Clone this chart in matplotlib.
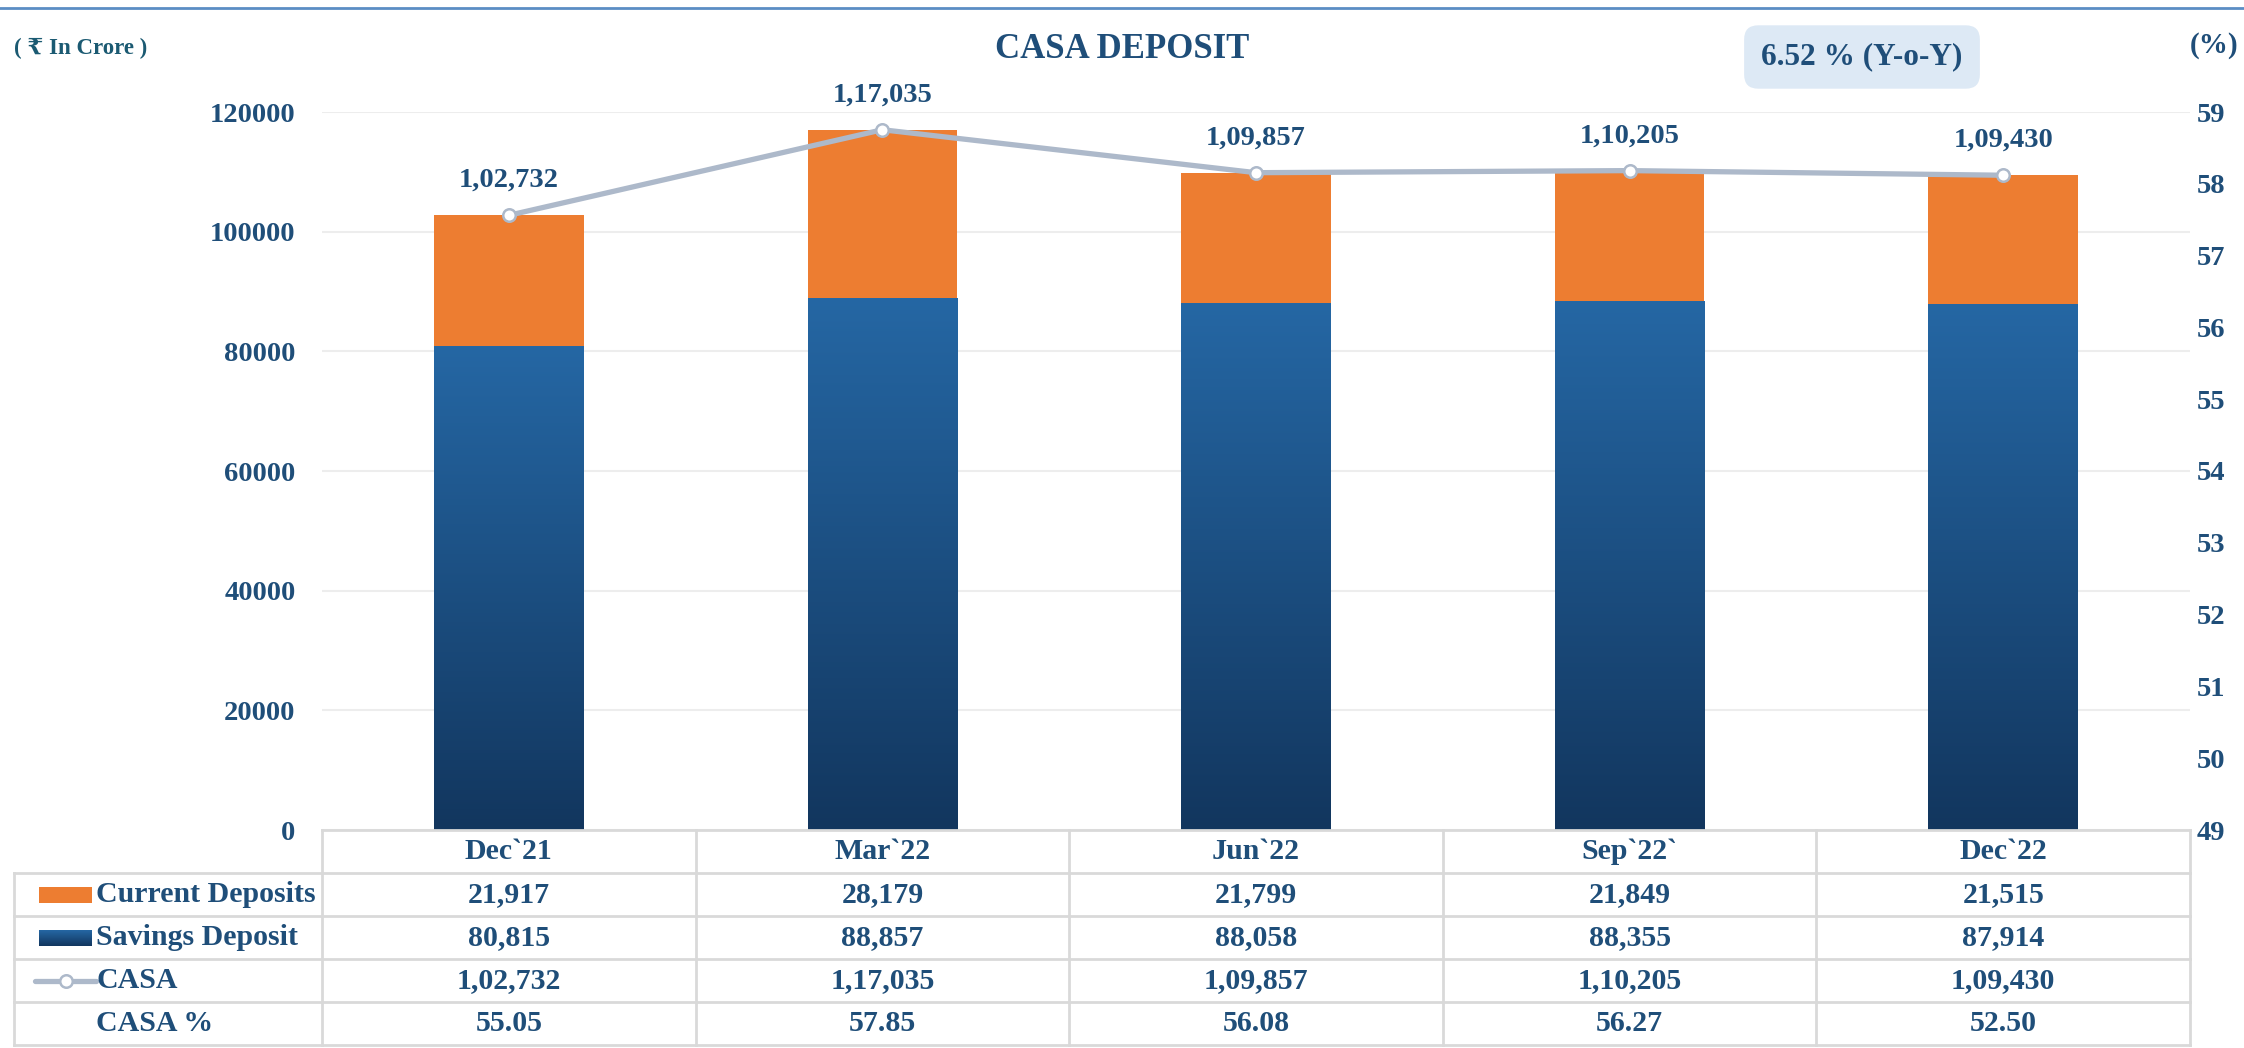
import numpy as np
import matplotlib
matplotlib.use("Agg")
import matplotlib.pyplot as plt
from matplotlib.colors import LinearSegmentedColormap
from matplotlib.patches import Rectangle
from matplotlib.lines import Line2D

plt.rcParams['font.family'] = ['Liberation Serif', 'DejaVu Serif', 'DejaVu Sans']
plt.rcParams['font.weight'] = 'bold'

# data (Rs crore)
periods = ["Dec`21", "Mar`22", "Jun`22", "Sep`22`", "Dec`22"]
current = [21917, 28179, 21799, 21849, 21515]
savings = [80815, 88857, 88058, 88355, 87914]
casa = [102732, 117035, 109857, 110205, 109430]
casa_pct = [55.05, 57.85, 56.08, 56.27, 52.50]
yoy_growth = 6.52

NAVY = '#1F4E79'
ORANGE = '#ED7D31'
LINE = '#ADB9CA'
GRID = '#EDEDED'
TBL = '#D9D9D9'
blue_grad = LinearSegmentedColormap.from_list('sb', ['#12365E', '#2567A4'])


def indian(n):
    s = str(int(n))
    if len(s) <= 3:
        return s
    head, tail = s[:-3], s[-3:]
    parts = []
    while len(head) > 2:
        parts.insert(0, head[-2:])
        head = head[:-2]
    if head:
        parts.insert(0, head)
    return ','.join(parts) + ',' + tail


W, H = 2244, 1048
fig = plt.figure(figsize=(W / 100, H / 100), dpi=100)

# pixel layout of the plot area
px_l, px_r, px_t, px_b = 322, 2190, 112, 830
ax = fig.add_axes([px_l / W, 1 - px_b / H, (px_r - px_l) / W, (px_b - px_t) / H])

x = np.arange(len(periods))
bw = 0.40
grad = np.linspace(1, 0, 256).reshape(-1, 1)

sav_bars = ax.bar(x, savings, bw, color='#1B4C80', zorder=2)
ax.bar(x, current, bw, bottom=savings, color=ORANGE, zorder=2)
for b in sav_bars:
    im = ax.imshow(grad, cmap=blue_grad, origin='upper', aspect='auto',
                   extent=(b.get_x(), b.get_x() + b.get_width(), 0, b.get_height()),
                   zorder=2.1)
    im.set_clip_path(b)

ax.plot(x, casa, color=LINE, lw=3.8, marker='o', ms=9, mfc='white',
        mec=LINE, mew=1.8, zorder=4)
for xi, v in zip(x, casa):
    ax.annotate(indian(v), (xi, v), xytext=(0, 25), textcoords='offset points',
                ha='center', va='center', color=NAVY, fontsize=20.5)

ax.set_xlim(-0.5, len(periods) - 0.5)
ax.set_ylim(0, 120000)
ax.set_yticks(np.arange(0, 120001, 20000))
ax.yaxis.grid(True, color=GRID, lw=1.5, zorder=0)
ax.set_axisbelow(True)
ax.set_xticks([])
ax.tick_params(axis='y', length=0, pad=19, labelsize=20.5, labelcolor=NAVY)
for s in ax.spines.values():
    s.set_visible(False)

ax2 = ax.twinx()
ax2.set_ylim(49, 59)
ax2.set_yticks(np.arange(49, 60, 1))
ax2.tick_params(axis='y', length=0, pad=5, labelsize=20.5, labelcolor=NAVY)
for s in ax2.spines.values():
    s.set_visible(False)

# data table under the chart
cat_px = (px_r - px_l) / len(periods)
tl = 14
x_left = -0.5 - (px_l - tl) / cat_px
tax = fig.add_axes([tl / W, 1 - 1045 / H, (px_r - tl) / W, (1045 - px_b) / H])
tax.set_xlim(x_left, len(periods) - 0.5)
tax.set_ylim(5, 0)
tax.axis('off')

tax.plot([-0.5, len(periods) - 0.5], [0, 0], color=TBL, lw=2, clip_on=False)
for r in range(1, 6):
    tax.plot([x_left, len(periods) - 0.5], [r, r], color=TBL, lw=2, clip_on=False)
tax.plot([x_left, x_left], [1, 5], color=TBL, lw=2, clip_on=False)
for c in np.arange(-0.5, len(periods), 1.0):
    tax.plot([c, c], [0, 5], color=TBL, lw=2, clip_on=False)

rows = [current, savings, casa]
for i, p in enumerate(periods):
    tax.text(i, 0.5, p, ha='center', va='center', color=NAVY, fontsize=21.5)
    for r, vals in enumerate(rows):
        tax.text(i, r + 1.5, indian(vals[i]), ha='center', va='center',
                 color=NAVY, fontsize=21.5)
    tax.text(i, 4.5, f'{casa_pct[i]:.2f}', ha='center', va='center',
             color=NAVY, fontsize=21.5)

lab_x = -0.5 - (px_l - 96) / cat_px
sw0 = -0.5 - (px_l - 39) / cat_px
sw1 = -0.5 - (px_l - 92) / cat_px
labels = ['Current Deposits', 'Savings Deposit', 'CASA', 'CASA %']
for r, lab in enumerate(labels):
    tax.text(lab_x, r + 1.5, lab, ha='left', va='center', color=NAVY, fontsize=21.5)
tax.add_patch(Rectangle((sw0, 1.33), sw1 - sw0, 0.36, color=ORANGE, lw=0))
sw = tax.imshow(grad, cmap=blue_grad, origin='upper', aspect='auto',
                extent=(sw0, sw1, 2.69, 2.33))
tax.add_line(Line2D([sw0 - 0.01, sw1 + 0.01], [3.5, 3.5], color=LINE, lw=3.8,
                    solid_capstyle='round'))
tax.plot([(sw0 + sw1) / 2], [3.5], 'o', ms=9, mfc='white', mec=LINE, mew=1.8)
tax.set_xlim(x_left, len(periods) - 0.5)
tax.set_ylim(5, 0)

# titles and notes
fig.add_artist(Line2D([0, 1], [1 - 8 / H, 1 - 8 / H], color='#5B8DC4', lw=2))
fig.text(0.5, 1 - 49 / H, 'CASA DEPOSIT', ha='center', va='center',
         color=NAVY, fontsize=25)
fig.text(14 / W, 1 - 48 / H, '( ₹ In Crore )', ha='left', va='center',
         color='#1B5A72', fontsize=16.5)
fig.text(2190 / W, 1 - 45 / H, '(%)', ha='left', va='center',
         color=NAVY, fontsize=21)
fig.text(1862 / W, 1 - 57 / H, f'{yoy_growth:.2f} % (Y-o-Y)', ha='center',
         va='center', color=NAVY, fontsize=22.5,
         bbox=dict(boxstyle='round,pad=0.55,rounding_size=0.45',
                   fc='#DDE9F5', ec='none'))

fig.savefig('out.png', dpi=100)
